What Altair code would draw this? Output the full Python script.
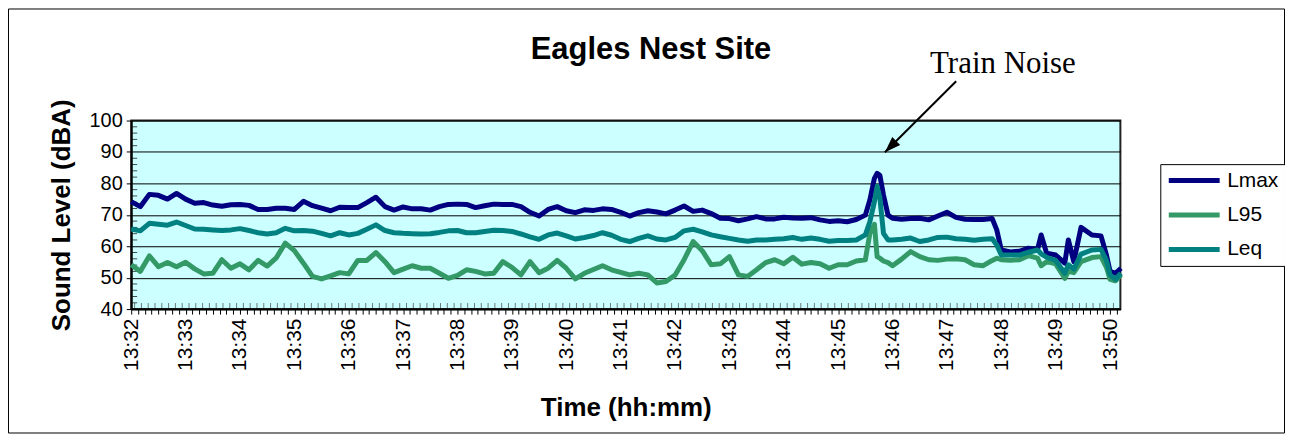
import json
import altair as alt
import pandas as pd

# ---- data ----
elapsed_s = [0, 10, 20, 30, 40, 50, 60, 70, 80, 90, 100, 110, 120, 130, 140, 150, 160, 170, 180, 190,
             200, 210, 220, 230, 240, 250, 260, 270, 280, 290, 300, 310, 320, 330, 340, 350, 360, 370, 380, 390,
             400, 410, 420, 430, 440, 450, 460, 470, 480, 490, 500, 510, 520, 530, 540, 550, 560, 570, 580, 590,
             600, 610, 620, 630, 640, 650, 660, 670, 680, 690, 700, 710, 720, 730, 740, 750, 760, 770, 780, 790,
             800, 810, 815, 820, 823, 826, 830, 835, 840, 850, 860, 870, 880, 890, 900, 910, 920, 930, 940, 950,
             955, 960, 970, 980, 990, 1000, 1004, 1010, 1020, 1030, 1034, 1040, 1048, 1060, 1070, 1076, 1080, 1086, 1092]

lmax = [74.2, 72.6, 76.5, 76.2, 75.0, 76.8, 75.0, 73.7, 73.9, 73.1, 72.7, 73.2, 73.3, 73.0, 71.7, 71.7, 72.1, 72.1, 71.7, 74.3,
        72.9, 72.1, 71.3, 72.4, 72.3, 72.3, 73.9, 75.6, 72.6, 71.5, 72.5, 71.9, 71.9, 71.5, 72.6, 73.3, 73.4, 73.3, 72.3, 72.9,
        73.4, 73.3, 73.3, 72.6, 70.8, 69.6, 71.7, 72.6, 71.3, 70.7, 71.6, 71.4, 71.9, 71.7, 70.8, 69.6, 70.7, 71.3, 70.9, 70.3,
        71.5, 72.8, 71.1, 71.5, 70.4, 68.9, 68.8, 68.1, 68.7, 69.4, 68.7, 68.7, 69.2, 69.0, 68.9, 69.1, 68.4, 67.9, 68.1, 67.8,
        68.5, 69.9, 74.7, 81.6, 83.2, 82.6, 76.3, 69.9, 68.9, 68.6, 68.8, 68.9, 68.4, 69.6, 70.8, 69.2, 68.6, 68.5, 68.5, 68.8,
        65.2, 58.8, 58.2, 58.4, 59.4, 59.0, 63.6, 57.8, 57.2, 54.6, 62.0, 55.1, 66.0, 63.6, 63.3, 57.2, 52.0, 51.4, 53.0]

l95 = [54.1, 52.0, 56.9, 53.5, 54.8, 53.5, 54.9, 52.8, 51.2, 51.4, 55.7, 53.0, 54.4, 52.5, 55.5, 53.7, 56.3, 61.0, 58.6, 54.6,
       50.4, 49.6, 50.6, 51.6, 51.2, 55.5, 55.5, 58.0, 55.1, 51.6, 52.7, 53.8, 53.0, 53.0, 51.4, 49.8, 50.7, 52.5, 52.0, 51.2,
       51.4, 55.1, 53.3, 50.9, 55.1, 51.6, 53.0, 55.5, 53.0, 49.6, 51.4, 52.6, 53.8, 52.5, 51.7, 50.9, 51.4, 50.9, 48.3, 48.8,
       50.8, 55.7, 61.5, 58.6, 54.1, 54.4, 56.7, 50.9, 50.4, 52.5, 54.8, 55.7, 54.4, 56.5, 54.3, 54.8, 54.4, 53.0, 54.1, 54.1,
       55.3, 55.7, 64.1, 67.0, 56.7, 56.2, 55.3, 54.8, 53.8, 55.9, 58.3, 56.7, 55.7, 55.5, 55.9, 56.0, 55.7, 54.1, 53.8, 55.5,
       56.2, 55.7, 55.5, 55.7, 57.0, 56.2, 53.8, 55.1, 54.4, 49.8, 52.0, 51.6, 55.1, 56.4, 56.7, 53.3, 49.5, 49.0, 50.9]

leq = [65.5, 64.9, 67.3, 67.0, 66.7, 67.7, 66.6, 65.5, 65.4, 65.2, 65.0, 65.2, 65.6, 65.0, 64.3, 63.9, 64.3, 65.7, 64.9, 65.0,
       64.8, 64.1, 63.3, 64.3, 63.6, 64.1, 65.4, 66.8, 65.0, 64.3, 64.1, 64.0, 63.9, 64.0, 64.4, 64.9, 65.0, 64.3, 64.3, 64.7,
       65.1, 65.0, 64.7, 63.9, 63.0, 62.2, 63.6, 64.2, 63.3, 62.3, 62.8, 63.4, 64.3, 63.5, 62.2, 61.5, 62.5, 63.3, 62.3, 62.0,
       62.8, 64.9, 65.4, 64.6, 63.6, 63.0, 62.5, 62.0, 61.6, 62.0, 62.0, 62.2, 62.4, 62.8, 62.2, 62.6, 62.2, 61.6, 61.8, 61.8,
       62.0, 63.6, 67.8, 74.2, 79.0, 75.5, 64.1, 62.0, 62.0, 62.2, 62.6, 61.5, 62.0, 62.8, 62.9, 62.4, 62.2, 61.9, 62.2, 62.4,
       60.4, 57.2, 57.2, 57.2, 58.1, 58.8, 57.6, 56.5, 55.5, 51.4, 54.1, 52.7, 57.5, 58.8, 59.0, 55.5, 50.9, 49.5, 51.4]

series_names = ["Lmax", "L95", "Leq"]
series_colors = ["#000080", "#339966", "#008080"]
tick_labels = ["13:32", "13:33", "13:34", "13:35", "13:36", "13:37", "13:38", "13:39", "13:40", "13:41",
               "13:42", "13:43", "13:44", "13:45", "13:46", "13:47", "13:48", "13:49", "13:50"]
y_ticks = [40, 50, 60, 70, 80, 90, 100]
y_minor_ticks = [42, 44, 46, 48, 52, 54, 56, 58, 62, 64, 66, 68, 72, 74, 76, 78, 82, 84, 86, 88, 92, 94, 96, 98]
chart_title = "Eagles Nest Site"
x_title = "Time (hh:mm)"
y_title = "Sound Level (dBA)"
note_text = "Train Noise"

# annotation anchor (minutes after 13:32, dBA)
note_pos = {"x": 16.03, "y": 115.0}
arrow_from = {"x": 15.17, "y": 112.5}
arrow_to = {"x": 13.86, "y": 89.9}

# ---- layout ----
PLOT_W, PLOT_H = 991.5, 189
PAD = {"left": 123.5, "top": 112.3, "right": 165, "bottom": 124.7}
FONT = "Liberation Sans"

rows = []
for name, vals in zip(series_names, [lmax, l95, leq]):
    for s, v in zip(elapsed_s, vals):
        rows.append({"series": name, "minutes": s / 60.0, "dBA": v})
df = pd.DataFrame(rows)

x_scale = alt.Scale(domain=[0, 18.19], nice=False, zero=False)
y_scale = alt.Scale(domain=[40, 100], nice=False, zero=False)

minor_values = [i / 8 for i in range(0, 146)]
inner_values = [(i + 0.5) / 8 for i in range(0, 145)]
label_expr = "datum.value % 1 == 0 ? " + json.dumps(tick_labels) + "[datum.value] : ''"

x_axis = alt.Axis(values=minor_values, labelExpr=label_expr, labelAngle=270, labelAlign="right",
                  labelBaseline="middle", labelFontSize=21, labelPadding=4, labelOverlap=False,
                  labelFlush=False, labelColor="black", tickSize=5, tickColor="black", tickWidth=1,
                  domainColor="black", domainWidth=2, grid=False,
                  title=x_title, titleFontSize=26, titleFontWeight="bold", titleColor="black",
                  titleX=PLOT_W / 2, titleY=99, titleAlign="center", titleBaseline="middle")
y_axis = alt.Axis(values=y_ticks, labelFontSize=20, labelPadding=4, labelColor="black",
                  labelOverlap=False, labelFlush=False,
                  tickSize=5, tickColor="black", tickWidth=1, domainColor="black", domainWidth=2,
                  grid=True, gridColor="black", gridWidth=1,
                  title=y_title, titleFontSize=26, titleFontWeight="bold", titleColor="black",
                  titleAngle=270, titleX=-69.5, titleY=PLOT_H / 2, titleAlign="center",
                  titleBaseline="middle")

lines = alt.Chart(df).mark_line(strokeWidth=5, strokeJoin="round").encode(
    x=alt.X("minutes:Q", scale=x_scale, axis=x_axis),
    y=alt.Y("dBA:Q", scale=y_scale, axis=y_axis),
    color=alt.Color("series:N",
                    scale=alt.Scale(domain=series_names, range=series_colors),
                    legend=alt.Legend(title=None, orient="none", legendX=1031.5, legendY=43.7,
                                      symbolType="stroke", symbolStrokeWidth=5, symbolSize=2601,
                                      clipHeight=21, rowPadding=12.5, labelFontSize=21, labelFont=FONT,
                                      labelColor="black", labelOffset=5, padding=6,
                                      strokeColor="black", fillColor="white")),
)

# inner minor ticks (Excel style)
y_minor = alt.Chart(pd.DataFrame({"v": y_minor_ticks})).mark_tick(
    color="black", thickness=1, size=5, orient="horizontal"
).encode(y=alt.Y("v:Q", scale=y_scale, axis=y_axis), x=alt.value(3.5))
x_minor = alt.Chart(pd.DataFrame({"m": inner_values})).mark_tick(
    color="#444444", thickness=1, size=5, orient="vertical"
).encode(x=alt.X("m:Q", scale=x_scale, axis=x_axis), y=alt.value(PLOT_H - 3.5))

ann = pd.DataFrame([{"x": arrow_from["x"], "y": arrow_from["y"],
                     "x2": arrow_to["x"], "y2": arrow_to["y"]}])
arrow_line = alt.Chart(ann).mark_rule(color="black", strokeWidth=2).encode(
    x=alt.X("x:Q", scale=x_scale, axis=x_axis), y=alt.Y("y:Q", scale=y_scale, axis=y_axis),
    x2="x2:Q", y2="y2:Q")
arrow_head = alt.Chart(ann).mark_point(shape="M0,0L-0.7,2L0.7,2Z", size=256, angle=225,
                                       filled=True, color="black", opacity=1).encode(
    x=alt.X("x2:Q", scale=x_scale, axis=x_axis), y=alt.Y("y2:Q", scale=y_scale, axis=y_axis))

note = alt.Chart(pd.DataFrame([{"x": note_pos["x"], "y": note_pos["y"], "t": note_text}])).mark_text(
    font="Liberation Serif", fontSize=31, align="center", baseline="alphabetic", color="black"
).encode(x=alt.X("x:Q", scale=x_scale, axis=x_axis), y=alt.Y("y:Q", scale=y_scale, axis=y_axis),
         text="t:N")

title_mark = alt.Chart(pd.DataFrame([{"t": chart_title}])).mark_text(
    font=FONT, fontSize=31, fontWeight="bold", align="center", baseline="alphabetic", color="black"
).encode(x=alt.value(521), y=alt.value(-61.8), text="t:N")

frame = alt.Chart(pd.DataFrame([{"k": 1}])).mark_rect(
    fillOpacity=0, stroke="black", strokeWidth=1
).encode(x=alt.value(-PAD["left"] + 0.5), x2=alt.value(PLOT_W + PAD["right"] - 0.5),
         y=alt.value(-PAD["top"] + 0.5), y2=alt.value(PLOT_H + PAD["bottom"] - 0.5))

chart = alt.layer(y_minor, x_minor, lines, arrow_line, arrow_head, note, title_mark, frame).properties(
    width=PLOT_W, height=PLOT_H,
    autosize=alt.AutoSizeParams(type="none"),
    padding=PAD,
    background="white",
).configure(font=FONT).configure_view(fill="#CCFFFF", stroke="#222222", strokeWidth=2)

chart.save("out.html", embed_options={"renderer": "svg", "actions": False})
